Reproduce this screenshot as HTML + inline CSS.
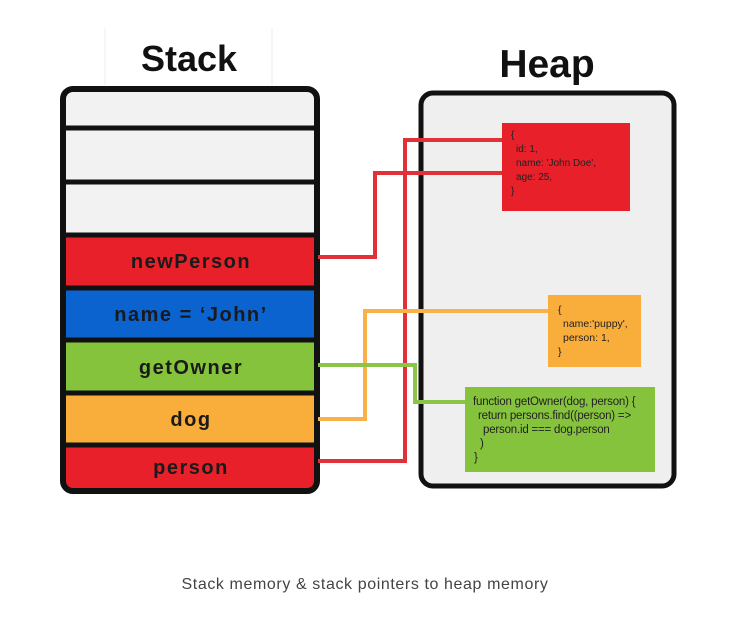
<!DOCTYPE html>
<html><head><style>
html,body{margin:0;padding:0;background:#fff;}
svg{display:block;font-family:"Liberation Sans",sans-serif;}
</style></head><body>
<svg width="751" height="623" viewBox="0 0 751 623" xmlns="http://www.w3.org/2000/svg">
<rect x="0" y="0" width="751" height="623" fill="#fff"/>
<line x1="105" y1="28" x2="105" y2="85" stroke="#eee"/>
<line x1="272" y1="28" x2="272" y2="85" stroke="#eee"/>
<text x="189" y="71" font-size="36" font-weight="bold" text-anchor="middle" fill="#111">Stack</text>
<text x="547" y="77" font-size="39" font-weight="bold" text-anchor="middle" fill="#111">Heap</text>
<!-- heap -->
<rect x="421" y="93" width="253" height="393" rx="12" fill="#efefef" stroke="#111" stroke-width="5"/>
<!-- stack -->
<rect x="63" y="89" width="254" height="402" rx="10" fill="#f2f2f2"/>
<rect x="63" y="235" width="254" height="53" fill="#e8202a"/>
<rect x="63" y="288" width="254" height="52" fill="#0b63d0"/>
<rect x="63" y="340" width="254" height="53" fill="#86c33c"/>
<rect x="63" y="393" width="254" height="52" fill="#f9ad3b"/>
<path d="M63 445 H317 V481 Q317 491 307 491 H73 Q63 491 63 481 Z" fill="#e8202a"/>
<g stroke="#111" stroke-width="5">
<line x1="63" y1="128" x2="317" y2="128"/>
<line x1="63" y1="182" x2="317" y2="182"/>
<line x1="63" y1="235" x2="317" y2="235"/>
<line x1="63" y1="288" x2="317" y2="288"/>
<line x1="63" y1="340" x2="317" y2="340"/>
<line x1="63" y1="393" x2="317" y2="393"/>
<line x1="63" y1="445" x2="317" y2="445"/>
</g>
<rect x="63" y="89" width="254" height="402" rx="10" fill="none" stroke="#111" stroke-width="6"/>
<g font-size="20" font-weight="bold" text-anchor="middle" fill="#1a1a1a" letter-spacing="1.5">
<text x="191" y="268">newPerson</text>
<text x="191" y="321">name = ‘John’</text>
<text x="191" y="374">getOwner</text>
<text x="191" y="426">dog</text>
<text x="191" y="474">person</text>
</g>
<!-- heap objects -->
<rect x="502" y="123" width="128" height="88" fill="#e8202a"/>
<rect x="548" y="295" width="93" height="72" fill="#f9ad3b"/>
<rect x="465" y="387" width="190" height="85" fill="#86c33c"/>
<!-- connectors -->
<g fill="none" stroke-width="4">
<polyline points="318,257 375,257 375,173 502,173" stroke="#e03038"/>
<polyline points="318,461 405,461 405,140 502,140" stroke="#e03038"/>
<polyline points="318,419 365,419 365,311 548,311" stroke="#f9b14a"/>
<polyline points="318,365 415,365 415,402 465,402" stroke="#8cc44a"/>
</g>
<g font-size="10" fill="#222">
<text x="511" y="138">{</text>
<text x="516" y="152">id: 1,</text>
<text x="516" y="166">name:  'John Doe',</text>
<text x="516" y="180">age: 25,</text>
<text x="511" y="194">}</text>
</g>
<g font-size="10.5" fill="#222">
<text x="558" y="313">{</text>
<text x="563" y="327">name:'puppy',</text>
<text x="563" y="341">person: 1,</text>
<text x="558" y="355">}</text>
</g>
<g font-size="11.5" fill="#222" letter-spacing="-0.2">
<text x="473" y="405">function getOwner(dog, person) {</text>
<text x="478" y="419">return persons.find((person) =&gt;</text>
<text x="483" y="433">person.id === dog.person</text>
<text x="480" y="447">)</text>
<text x="474" y="461">}</text>
</g>
<text x="365" y="589" font-size="16" text-anchor="middle" fill="#444" letter-spacing="0.6">Stack memory &amp; stack pointers to heap memory</text>
</svg>
</body></html>
